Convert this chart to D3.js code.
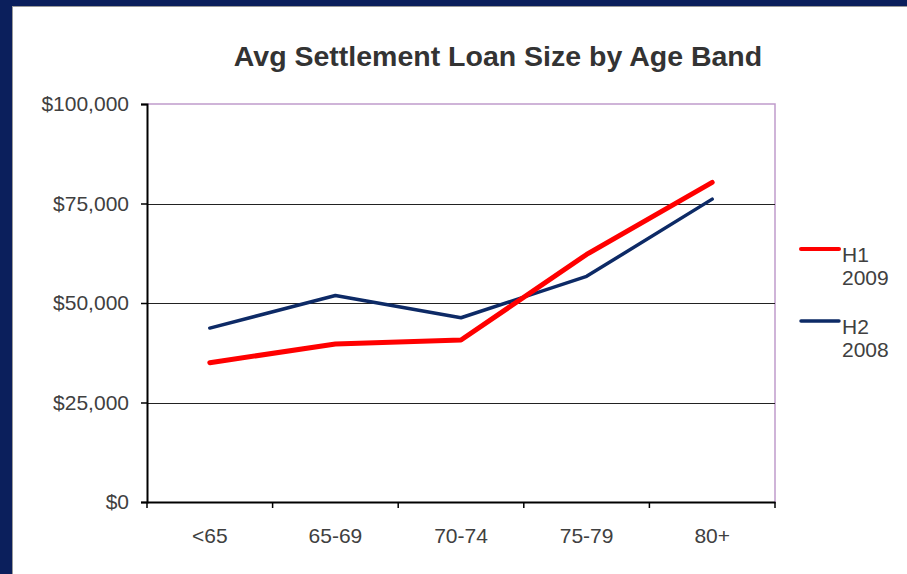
<!DOCTYPE html>
<html>
<head>
<meta charset="utf-8">
<title>Avg Settlement Loan Size by Age Band</title>
<script src="https://cdn.jsdelivr.net/npm/d3@7"></script>
<style>
  body { margin: 0; background: #0b1f5c; }
  svg { display: block; font-family: "Liberation Sans", Arial, sans-serif; }
</style>
</head>
<body>
<div id="chart"></div>
<script>
// data
var ageBands = ["<65", "65-69", "70-74", "75-79", "80+"];
var h1_2009 = [35000, 39700, 40700, 62200, 80300];
var h2_2008 = [43700, 51900, 46300, 56700, 76100];
var yTicks = [0, 25000, 50000, 75000, 100000];
var seriesNames = [["H1", "2009"], ["H2", "2008"]];
var seriesColors = ["#ff0000", "#0d2a66"];

var W = 907, H = 574;
var svg = d3.select("#chart").append("svg").attr("width", W).attr("height", H);

// navy frame + white panel
svg.append("rect").attr("width", W).attr("height", H).attr("fill", "#0b1f5c");
svg.append("rect").attr("x", 12).attr("y", 6).attr("width", W - 12).attr("height", H - 6)
   .attr("fill", "#9a9a9a");
svg.append("rect").attr("x", 13).attr("y", 7).attr("width", W - 13).attr("height", H - 7)
   .attr("fill", "#fff");

var pLeft = 147, pRight = 775, pTop = 104, pBottom = 502;

var x = d3.scaleBand().domain(ageBands).range([pLeft, pRight]);
var y = d3.scaleLinear().domain([0, 100000]).range([pBottom, pTop]);

svg.append("text").attr("x", 498).attr("y", 66).attr("text-anchor", "middle")
   .attr("font-size", 28.5).attr("font-weight", "bold").attr("fill", "#333")
   .text("Avg Settlement Loan Size by Age Band");

// plot border (lavender top/right)
svg.append("path")
   .attr("d", "M" + pLeft + "," + pTop + "H" + pRight + "V" + pBottom)
   .attr("fill", "none").attr("stroke", "#c09ccc").attr("stroke-width", 1.5);

// gridlines
svg.selectAll(".grid").data(yTicks.filter(function(d) { return d > 0 && d < 100000; }))
   .enter().append("line")
   .attr("x1", pLeft).attr("x2", pRight)
   .attr("y1", function(d) { return Math.round(y(d)) + 0.5; })
   .attr("y2", function(d) { return Math.round(y(d)) + 0.5; })
   .attr("stroke", "#222").attr("stroke-width", 1);

// y axis
var yAxis = svg.append("g").attr("transform", "translate(" + pLeft + ",0)")
   .call(d3.axisLeft(y).tickValues(yTicks).tickSize(6).tickPadding(12)
        .tickFormat(function(d) { return "$" + d3.format(",")(d); }));
yAxis.select(".domain").attr("stroke", "#000").attr("stroke-width", 2);
yAxis.selectAll(".tick line").attr("stroke", "#000").attr("stroke-width", 1.5);
yAxis.selectAll("text").attr("font-size", 21).attr("fill", "#404040")
   .attr("font-family", "Liberation Sans, Arial, sans-serif");

// x axis
var xAxis = svg.append("g").attr("transform", "translate(0," + pBottom + ")")
   .call(d3.axisBottom(x).tickSize(0).tickPadding(26));
xAxis.select(".domain").attr("stroke", "#000").attr("stroke-width", 2);
xAxis.selectAll("text").attr("font-size", 21).attr("fill", "#404040")
   .attr("font-family", "Liberation Sans, Arial, sans-serif");
// tick marks on band edges
var edges = ageBands.map(function(d) { return x(d); }).concat([pRight]);
svg.selectAll(".xt").data(edges).enter().append("line")
   .attr("x1", function(d) { return d; }).attr("x2", function(d) { return d; })
   .attr("y1", pBottom).attr("y2", pBottom + 6)
   .attr("stroke", "#000").attr("stroke-width", 1.5);

var line = d3.line()
   .x(function(d, i) { return x(ageBands[i]) + x.bandwidth() / 2; })
   .y(function(d) { return y(d); });

svg.append("path").datum(h2_2008).attr("d", line).attr("fill", "none")
   .attr("stroke", seriesColors[1]).attr("stroke-width", 3.5)
   .attr("stroke-linecap", "round").attr("stroke-linejoin", "round");
svg.append("path").datum(h1_2009).attr("d", line).attr("fill", "none")
   .attr("stroke", seriesColors[0]).attr("stroke-width", 5)
   .attr("stroke-linecap", "round").attr("stroke-linejoin", "round");

// legend
var leg = svg.selectAll(".leg").data(seriesNames).enter().append("g")
   .attr("transform", function(d, i) { return "translate(801," + (249 + i * 72) + ")"; });
leg.append("line").attr("x1", 0).attr("x2", 38)
   .attr("stroke", function(d, i) { return seriesColors[i]; })
   .attr("stroke-width", function(d, i) { return i === 0 ? 4 : 3.5; })
   .attr("stroke-linecap", "round");
leg.append("text").attr("x", 41).attr("y", 13).attr("font-size", 21).attr("fill", "#404040")
   .text(function(d) { return d[0]; });
leg.append("text").attr("x", 41).attr("y", 36).attr("font-size", 21).attr("fill", "#404040")
   .text(function(d) { return d[1]; });
</script>
</body>
</html>
